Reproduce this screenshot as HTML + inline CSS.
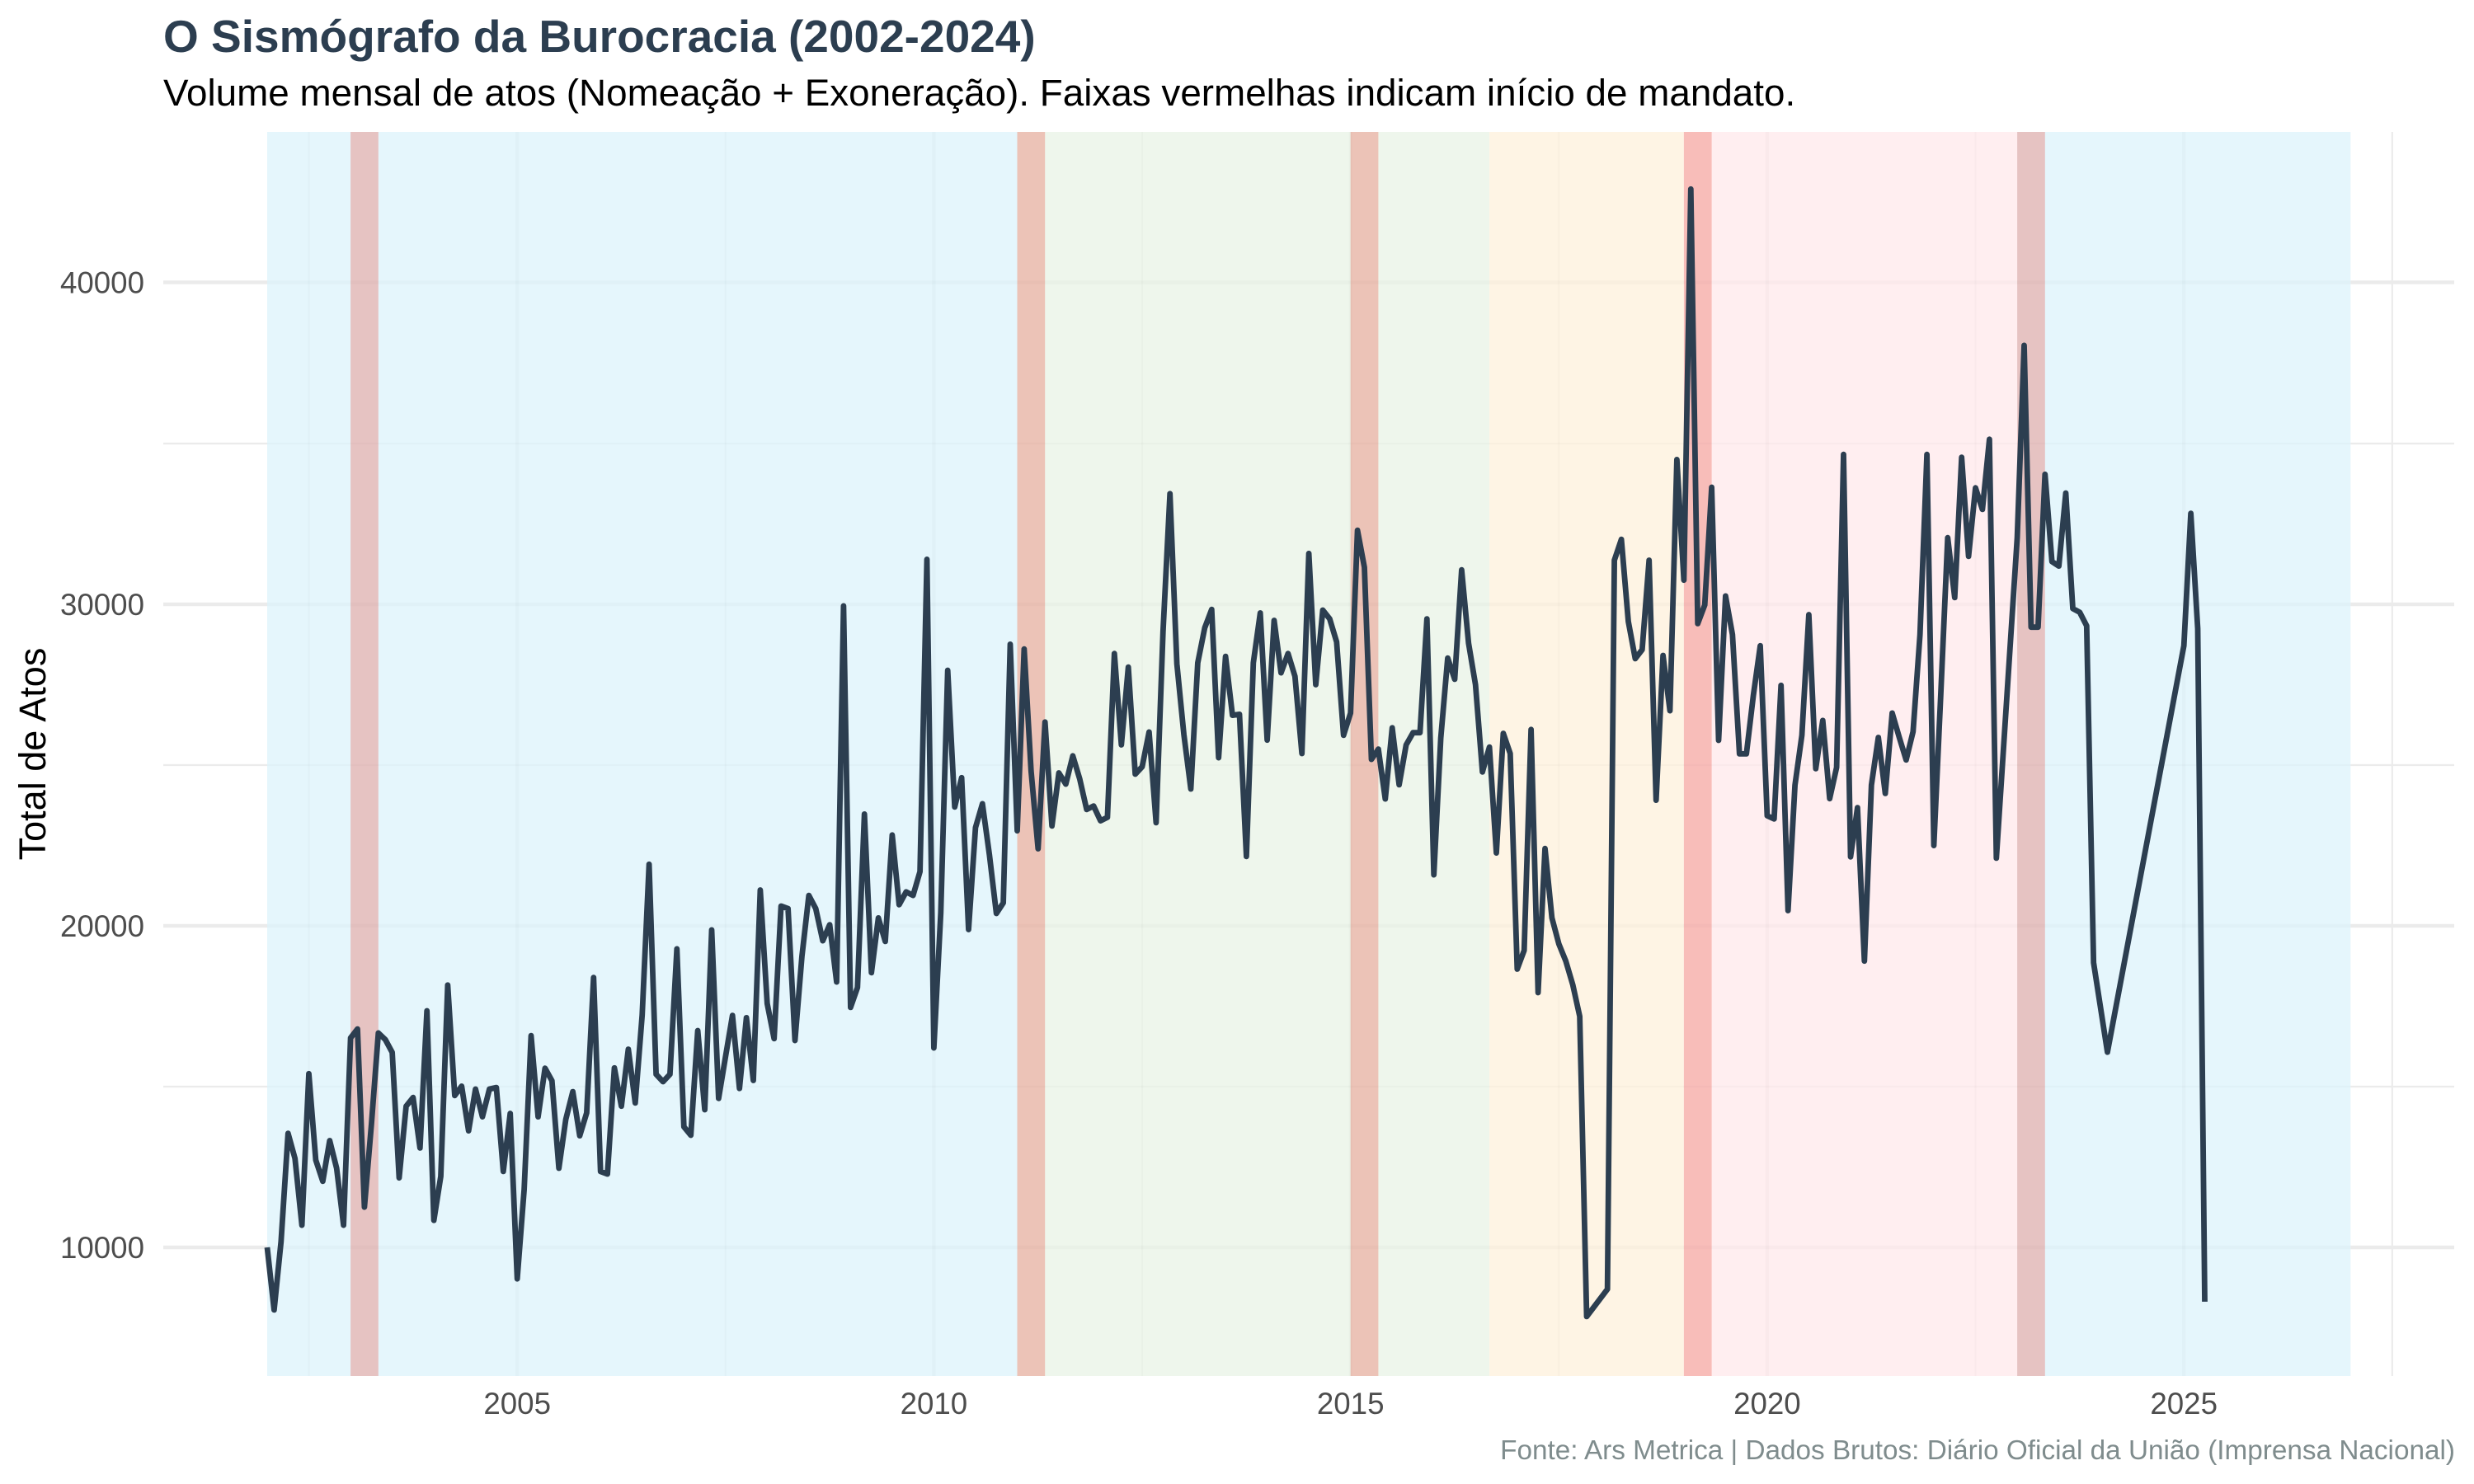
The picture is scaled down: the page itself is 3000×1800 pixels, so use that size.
<!DOCTYPE html>
<html>
<head>
<meta charset="utf-8">
<style>
  html, body { margin: 0; padding: 0; background: #ffffff; }
  svg { display: block; }
  text { font-family: "Liberation Sans", Arial, Helvetica, sans-serif; }
</style>
</head>
<body>
<svg xmlns="http://www.w3.org/2000/svg" width="3000" height="1800" viewBox="0 0 3000 1800">
  <rect x="0" y="0" width="3000" height="1800" fill="#ffffff"/>

  <!-- Gridlines (under rects) -->
  <g stroke="#ebebeb" fill="none">
    <line x1="198" y1="1318" x2="2976" y2="1318" stroke-width="2.2"/>
    <line x1="198" y1="928" x2="2976" y2="928" stroke-width="2.2"/>
    <line x1="198" y1="538" x2="2976" y2="538" stroke-width="2.2"/>
    <line x1="374.6" y1="160" x2="374.6" y2="1669" stroke-width="2.2"/>
    <line x1="879.8" y1="160" x2="879.8" y2="1669" stroke-width="2.2"/>
    <line x1="1385.0" y1="160" x2="1385.0" y2="1669" stroke-width="2.2"/>
    <line x1="1890.3" y1="160" x2="1890.3" y2="1669" stroke-width="2.2"/>
    <line x1="2395.5" y1="160" x2="2395.5" y2="1669" stroke-width="2.2"/>
    <line x1="2900.8" y1="160" x2="2900.8" y2="1669" stroke-width="2.2"/>
    <line x1="198" y1="1513" x2="2976" y2="1513" stroke-width="4.4"/>
    <line x1="198" y1="1123" x2="2976" y2="1123" stroke-width="4.4"/>
    <line x1="198" y1="733" x2="2976" y2="733" stroke-width="4.4"/>
    <line x1="198" y1="342.5" x2="2976" y2="342.5" stroke-width="4.4"/>
    <line x1="627.2" y1="160" x2="627.2" y2="1669" stroke-width="4.4"/>
    <line x1="1132.4" y1="160" x2="1132.4" y2="1669" stroke-width="4.4"/>
    <line x1="1637.7" y1="160" x2="1637.7" y2="1669" stroke-width="4.4"/>
    <line x1="2142.9" y1="160" x2="2142.9" y2="1669" stroke-width="4.4"/>
    <line x1="2648.2" y1="160" x2="2648.2" y2="1669" stroke-width="4.4"/>
  </g>

  <!-- Era rectangles -->
  <rect x="324" y="160" width="909.5" height="1509" fill="#e5f6fc"/>
  <rect x="1233.5" y="160" width="572.6" height="1509" fill="#eef6ec"/>
  <rect x="1806.1" y="160" width="235.8" height="1509" fill="#fef4e4"/>
  <rect x="2041.9" y="160" width="404.2" height="1509" fill="#ffeef0"/>
  <rect x="2446.1" y="160" width="404.2" height="1509" fill="#e5f6fc"/>

  <!-- faint gridlines showing through rects -->
  <g stroke="rgba(0,0,0,0.018)" fill="none">
    <line x1="324" y1="1318" x2="2850" y2="1318" stroke-width="2.2"/>
    <line x1="324" y1="928" x2="2850" y2="928" stroke-width="2.2"/>
    <line x1="324" y1="538" x2="2850" y2="538" stroke-width="2.2"/>
    <line x1="374.6" y1="160" x2="374.6" y2="1669" stroke-width="2.2"/>
    <line x1="879.8" y1="160" x2="879.8" y2="1669" stroke-width="2.2"/>
    <line x1="1385.0" y1="160" x2="1385.0" y2="1669" stroke-width="2.2"/>
    <line x1="1890.3" y1="160" x2="1890.3" y2="1669" stroke-width="2.2"/>
    <line x1="2395.5" y1="160" x2="2395.5" y2="1669" stroke-width="2.2"/>
    <line x1="324" y1="1513" x2="2850" y2="1513" stroke-width="4.4"/>
    <line x1="324" y1="1123" x2="2850" y2="1123" stroke-width="4.4"/>
    <line x1="324" y1="733" x2="2850" y2="733" stroke-width="4.4"/>
    <line x1="324" y1="342.5" x2="2850" y2="342.5" stroke-width="4.4"/>
    <line x1="627.2" y1="160" x2="627.2" y2="1669" stroke-width="4.4"/>
    <line x1="1132.4" y1="160" x2="1132.4" y2="1669" stroke-width="4.4"/>
    <line x1="1637.7" y1="160" x2="1637.7" y2="1669" stroke-width="4.4"/>
    <line x1="2142.9" y1="160" x2="2142.9" y2="1669" stroke-width="4.4"/>
    <line x1="2648.2" y1="160" x2="2648.2" y2="1669" stroke-width="4.4"/>
  </g>

  <!-- Mandate-start bands -->
  <g fill="rgba(231,76,60,0.3)">
    <rect x="425.1" y="160" width="33.7" height="1509"/>
    <rect x="1233.5" y="160" width="33.7" height="1509"/>
    <rect x="1637.7" y="160" width="33.7" height="1509"/>
    <rect x="2041.9" y="160" width="33.7" height="1509"/>
    <rect x="2446.1" y="160" width="33.7" height="1509"/>
  </g>

  <!-- Series -->
  <polyline fill="none" stroke="#2c3e50" stroke-width="6.8" stroke-linejoin="round" stroke-linecap="butt" points="
324.0,1513.0 332.4,1588.9 340.8,1506.0 349.3,1374.7 357.7,1405.1 366.1,1486.1 374.5,1302.3 382.9,1407.1 391.4,1432.8 399.8,1383.5 408.2,1417.0 416.6,1486.1
425.1,1259.0 433.5,1248.1 441.9,1464.2 450.4,1363.6 458.8,1252.9 467.2,1260.9 475.6,1276.5 484.0,1428.7 492.5,1341.7 500.9,1331.2 509.3,1392.4 517.7,1226.0
526.1,1480.2 534.5,1426.8 542.9,1194.8 551.4,1328.8 559.8,1317.5 568.2,1371.6 576.6,1321.0 585.0,1354.6 593.5,1321.0 601.9,1319.1 610.3,1420.9 618.7,1350.5
627.2,1551.2 635.6,1442.8 644.0,1256.1 652.5,1354.6 660.9,1295.7 669.3,1310.9 677.7,1417.0 686.1,1357.7 694.6,1324.1 703.0,1377.6 711.4,1349.9 719.8,1185.6
728.2,1420.9 736.6,1424.0 745.0,1295.3 753.5,1341.7 761.9,1272.6 770.3,1337.8 778.7,1231.3 787.1,1048.3 795.6,1303.1 804.0,1312.0 812.4,1303.1 820.8,1150.9
829.3,1366.7 837.7,1377.0 846.1,1250.0 854.6,1346.0 863.0,1127.9 871.4,1332.3 879.8,1281.6 888.2,1231.7 896.7,1320.2 905.1,1234.4 913.5,1310.5 921.9,1079.5
930.3,1217.2 938.7,1259.8 947.1,1099.0 955.6,1102.1 964.0,1262.1 972.4,1160.3 980.8,1086.1 989.2,1102.1 997.7,1141.1 1006.1,1121.6 1014.5,1191.1 1022.9,734.9
1031.4,1221.9 1039.8,1197.7 1048.2,987.4 1056.7,1179.8 1065.1,1113.4 1073.5,1141.9 1081.9,1012.8 1090.3,1097.4 1098.8,1081.8 1107.2,1086.1 1115.6,1057.2 1124.0,678.4
1132.4,1271.1 1140.8,1107.2 1149.2,813.0 1157.7,978.8 1166.1,943.3 1174.5,1127.5 1182.9,1003.8 1191.3,974.9 1199.8,1037.0 1208.2,1108.0 1216.6,1095.1 1225.0,781.4
1233.5,1007.7 1241.9,787.2 1250.3,935.1 1258.8,1029.5 1267.2,875.8 1275.6,1001.8 1284.0,937.5 1292.4,951.1 1300.9,916.8 1309.3,944.9 1317.7,981.9 1326.1,977.6
1334.5,995.6 1342.9,991.3 1351.3,792.7 1359.8,903.5 1368.2,809.1 1376.6,939.0 1385.0,930.0 1393.4,887.9 1401.9,997.9 1410.3,766.2 1418.7,598.8 1427.1,805.2
1435.6,891.0 1444.0,957.0 1452.4,804.0 1460.9,761.5 1469.3,739.2 1477.7,919.1 1486.1,796.2 1494.5,867.6 1503.0,866.4 1511.4,1038.9 1519.8,804.0 1528.2,743.5
1536.6,897.7 1545.0,752.5 1553.4,816.1 1561.9,792.7 1570.3,820.4 1578.7,914.0 1587.1,671.3 1595.5,830.5 1604.0,740.0 1612.4,750.6 1620.8,778.6 1629.2,891.8
1637.7,864.9 1646.1,643.2 1654.5,688.1 1663.0,921.1 1671.4,908.6 1679.8,969.1 1688.2,882.8 1696.6,951.9 1705.1,903.5 1713.5,888.7 1721.9,888.7 1730.3,750.6
1738.7,1061.1 1747.1,895.3 1755.5,798.2 1764.0,823.9 1772.4,691.2 1780.8,780.2 1789.2,830.5 1797.6,936.3 1806.1,906.2 1814.5,1034.6 1822.9,889.5 1831.3,914.0
1839.8,1175.5 1848.2,1152.8 1856.6,884.8 1865.1,1204.0 1873.5,1029.2 1881.9,1113.4 1890.3,1145.0 1898.7,1165.7 1907.2,1194.6 1915.6,1232.8 1924.0,1596.9
1949.2,1563.7 1957.6,679.5 1966.1,654.2 1974.5,753.7 1982.9,798.9 1991.3,788.0 1999.7,679.5 2008.2,970.6 2016.6,795.0 2025.0,862.1 2033.4,557.4
2041.9,703.7 2050.3,229.3 2058.7,756.4 2067.2,733.8 2075.6,591.0 2084.0,898.0 2092.4,722.9 2100.8,769.7 2109.3,914.4 2117.7,914.4 2126.1,843.8 2134.5,783.3
2142.9,989.4 2151.3,993.3 2159.7,831.3 2168.2,1104.5 2176.6,952.3 2185.0,891.8 2193.4,745.5 2201.8,932.4 2210.3,873.9 2218.7,968.7 2227.1,930.8 2235.5,551.2
2244.0,1039.3 2252.4,979.6 2260.8,1165.7 2269.3,952.3 2277.7,894.5 2286.1,962.4 2294.5,864.9 2302.9,893.8 2311.4,921.8 2319.8,887.5 2328.2,769.7 2336.6,551.2
2345.0,1025.6 2353.4,842.2 2361.8,652.2 2370.3,724.8 2378.7,554.7 2387.1,674.8 2395.5,591.7 2403.9,617.9 2412.4,532.8 2420.8,1040.9
2446.1,652.2 2454.5,418.9 2462.9,760.7 2471.4,760.7 2479.8,575.3 2488.2,681.1 2496.6,686.6 2505.0,598.0 2513.5,738.1 2521.9,742.7 2530.3,759.1 2538.7,1167.7
2555.5,1276.2
2648.2,783.3 2656.6,622.6 2665.0,762.6 2673.5,1578.9"/>

  <!-- Y tick labels -->
  <g font-size="36.7" fill="#4d4d4d" text-anchor="end">
    <text x="175" y="1526">10000</text>
    <text x="175" y="1136">20000</text>
    <text x="175" y="746">30000</text>
    <text x="175" y="355.5">40000</text>
  </g>

  <!-- X tick labels -->
  <g font-size="36.7" fill="#4d4d4d" text-anchor="middle">
    <text x="627.2" y="1715">2005</text>
    <text x="1132.4" y="1715">2010</text>
    <text x="1637.7" y="1715">2015</text>
    <text x="2142.9" y="1715">2020</text>
    <text x="2648.2" y="1715">2025</text>
  </g>

  <!-- Y axis title -->
  <text transform="translate(55,914.5) rotate(-90)" font-size="45" fill="#000000" text-anchor="middle">Total de Atos</text>

  <!-- Title & subtitle -->
  <text x="198" y="63" font-size="55" font-weight="bold" fill="#2c3e50">O Sismógrafo da Burocracia (2002-2024)</text>
  <text x="198" y="128" font-size="45.8" fill="#000000">Volume mensal de atos (Nomeação + Exoneração). Faixas vermelhas indicam início de mandato.</text>

  <!-- Caption -->
  <text x="2977" y="1770" font-size="33.3" fill="#7f8c8d" text-anchor="end">Fonte: Ars Metrica | Dados Brutos: Diário Oficial da União (Imprensa Nacional)</text>
</svg>
</body>
</html>
